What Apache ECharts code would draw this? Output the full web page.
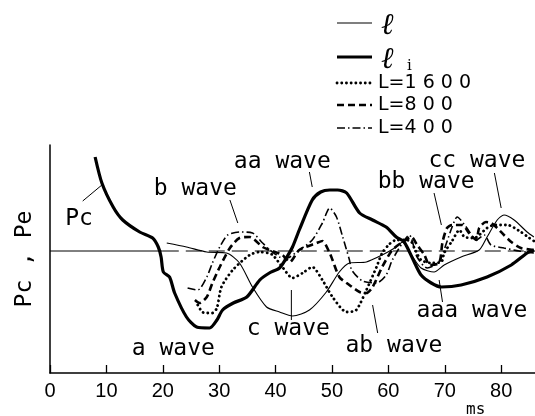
<!DOCTYPE html>
<html>
<head>
<meta charset="utf-8">
<script src="https://cdn.jsdelivr.net/npm/echarts@6/dist/echarts.min.js"></script>
<style>
  html, body { margin: 0; padding: 0; background: #fff; }
  #chart { width: 535px; height: 416px; }
</style>
</head>
<body>
<div id="chart"></div>
<script>
// Time axis (ms)
const xTicks = { min: 0, max: 86, interval: 10 };

// Thick curve: Pc falling into the l_i response
const ell_i = [[8.0,47],[9.2,34],[11.2,22],[12.9,15.5],[15.9,9.5],[18.2,6.5],[19.2,2],[19.7,-3],[20.1,-10.5],[21.2,-13],[22.1,-21],[24.2,-33],[26.0,-38],[28.3,-38.5],[29.6,-34.5],[30.6,-29.5],[32.5,-26],[34.9,-23],[37.2,-14.5],[38.9,-11],[40.7,-8.5],[41.9,-3.5],[43.0,2],[44.2,10.5],[46.5,25.5],[48.0,29.5],[49.6,30.5],[51.0,30.5],[52.6,29],[54.9,19],[57.2,15.5],[59.6,12],[61.4,7],[62.8,4.5],[64.5,-5],[65.8,-12],[67.6,-16],[69.4,-18],[72.9,-17],[77.5,-13],[81.8,-7],[84.6,-1],[85.8,0.5]];

// Thin curve l
const ell = [[20.7,4],[24.2,2],[27.8,-0.5],[31.3,-1],[33.6,-6],[35.9,-18],[38.4,-28],[40.7,-30.5],[43.0,-32.5],[46.0,-29.5],[49.0,-20.5],[51.3,-10.5],[53.1,-6],[56.1,-5.5],[58.9,-2],[61.4,2],[62.5,4.5],[64.1,-2],[65.8,-8.5],[68.1,-10.5],[69.9,-7],[72.9,-3],[76.1,0.5],[77.5,7],[79.3,15.5],[80.5,18],[82.3,15.5],[84.6,9.5],[85.8,7]];

// L = 1600 (dotted)
const L1600 = [[26.2,-27],[27.0,-30.5],[27.8,-31],[28.8,-31],[29.6,-28.5],[30.4,-18],[32.4,-9.5],[35.4,-2],[37.2,-0.5],[38.6,-1],[39.5,-2],[41.2,-8],[43.0,-13.5],[44.8,-11],[46.5,-8],[48.3,-14.5],[50.1,-23],[52.6,-30.5],[54.3,-29.5],[56.1,-19.5],[57.9,-8],[58.9,-1],[60.2,3.5],[61.4,5.5],[63.2,5.5],[64.1,4.5],[64.6,1.5],[65.8,-4.5],[67.6,-6],[69.4,-5.5],[69.9,-1],[71.3,5],[72.6,10.5],[73.5,7],[75.2,6.5],[77.5,11.5],[78.8,13],[81.1,13],[83.5,9.5],[85.0,6.5],[85.8,5]];

// L = 800 (dashed)
const L800 = [[25.7,-24.5],[26.5,-26],[27.8,-23],[28.8,-16],[30.1,-8],[31.9,1.5],[33.6,6.5],[35.4,7],[37.7,2],[38.9,0.5],[41.2,-2],[42.5,-5.5],[44.2,0.5],[47.3,4],[48.3,5],[49.6,-1],[50.1,-4.5],[51.3,-13],[52.6,-16],[54.9,-20.5],[56.1,-21],[57.2,-18],[58.9,-8],[60.7,0.5],[62.5,4.5],[64.1,7],[65.1,3],[66.4,-2],[67.3,-7],[69.0,-6],[69.6,4.5],[70.4,11.5],[71.3,13],[73.1,13],[74.3,9],[75.6,5.5],[76.1,11.5],[77.3,14.5],[78.2,14],[79.3,11.5],[80.5,8],[81.8,4.5],[83.5,1.5],[85.8,0.5]];

// L = 400 (dash-dot)
const L400 = [[24.4,-18.5],[26.2,-19.5],[27.8,-13],[28.8,-6],[30.1,2],[31.5,8],[33.6,9.5],[35.9,9],[37.7,4],[38.6,1.5],[40.7,-3],[42.0,-3.5],[44.2,0.5],[46.5,5.5],[48.3,14],[49.6,21.5],[50.8,17],[51.9,7],[53.1,-4.5],[53.5,-9.5],[55.4,-15],[57.9,-16],[59.6,-12],[60.7,-4.5],[62.5,4],[63.7,8],[65.1,-3],[66.9,-8.5],[69.0,-5.5],[70.3,4],[71.3,12],[72.2,17],[73.8,12],[75.6,5.5],[77.0,8],[78.2,3],[80.5,1.5],[83.2,0],[85.8,-1]];

// Pe reference level
const peSolid = [[0,0],[20,0]];
const peDashed = [[20,0],[86,0]];

// Wave labels: [text, x(ms), y]
const waveLabels = [
  ['a wave', 14.5, -49],
  ['c wave', 34.9, -39],
  ['ab wave', 52.4, -47.5],
  ['aaa wave', 65.0, -30],
  ['cc wave', 67.1, 45],
  ['bb wave', 58.1, 34.5],
  ['aa wave', 32.6, 44.5],
  ['b wave', 18.4, 31],
  ['Pc', 2.7, 16]
];

// Leader lines: [x1, y1, x2, y2]
const leaders = [
  [5.8,25, 9.2,33],
  [31.9,25.5, 33.3,14],
  [46.0,39.5, 46.5,32],
  [68.1,29, 69.4,13],
  [78.8,39, 80.0,21.5],
  [42.8,-19.5, 42.8,-34.5],
  [57.2,-27, 58.1,-41],
  [69.0,-14.5, 69.6,-25.5]
];

// Line styles shared by the curves and the key
const styles = {
  'ℓ':      { width: 1.1 },
  'ℓi':     { width: 3.2 },
  'L=1600': { width: 2.8, type: [0.1, 4.6], cap: 'round' },
  'L=800':  { width: 2.6, type: [7, 4] },
  'L=400':  { width: 1.6, type: [8, 3, 1.5, 3] }
};

// Key rows: name, row centre (px from top), text
const keyRows = [
  ['ℓ', 23],
  ['ℓi', 57],
  ['L=1600', 83],
  ['L=800', 105],
  ['L=400', 128]
];

const chart = echarts.init(document.getElementById('chart'), null, { renderer: 'canvas' });

const lineSeries = (name, data) => ({
  name, type: 'line', data, symbol: 'none', showSymbol: false, smooth: 0.25,
  lineStyle: Object.assign({ color: '#000' }, styles[name]),
  itemStyle: { color: '#000' },
  z: 3, animation: false
});

chart.setOption({
  backgroundColor: '#fff',
  animation: false,
  grid: { left: 50, right: 0, top: 145, bottom: 43 },
  xAxis: {
    type: 'value', min: xTicks.min, max: xTicks.max, interval: xTicks.interval,
    axisLine: { onZero: false, lineStyle: { color: '#000', width: 1.5 } },
    axisTick: { inside: true, length: 8, lineStyle: { color: '#000', width: 1.3 } },
    axisLabel: { showMaxLabel: false, color: '#000', fontFamily: 'Liberation Sans', fontSize: 20, margin: 8 },
    splitLine: { show: false }
  },
  yAxis: {
    type: 'value', min: -61, max: 53,
    name: 'Pc , Pe', nameLocation: 'middle', nameRotate: 90, nameGap: 13,
    nameTextStyle: { color: '#000', fontFamily: 'DejaVu Sans Mono', fontSize: 23 },
    axisLine: { show: true, onZero: false, lineStyle: { color: '#000', width: 1.5 } },
    axisTick: { show: false }, axisLabel: { show: false }, splitLine: { show: false }
  },
  series: [
    lineSeries('ℓ', ell),
    lineSeries('ℓi', ell_i),
    lineSeries('L=1600', L1600),
    lineSeries('L=800', L800),
    lineSeries('L=400', L400),
    { name: 'Pe', type: 'line', data: peSolid, symbol: 'none', lineStyle: { color: '#000', width: 1 }, z: 2 },
    { name: 'Pe2', type: 'line', data: peDashed, symbol: 'none', lineStyle: { color: '#000', width: 1, type: [16, 7] }, z: 2 }
  ]
});

const graphics = [];

// Key: line sample + label per curve
keyRows.forEach(([name, y]) => {
  const s = styles[name];
  graphics.push({
    type: 'line', z: 10,
    shape: { x1: 337, y1: y, x2: 372, y2: y },
    style: { stroke: '#000', lineWidth: s.width, lineDash: s.type || null, lineCap: s.cap || 'butt' }
  });
  if (name === 'ℓ' || name === 'ℓi') {
    graphics.push({
      type: 'text', x: 381, y: y + 3, z: 10,
      style: { text: 'ℓ', font: 'italic 30px "DejaVu Serif"', fill: '#000', textVerticalAlign: 'middle' }
    });
    if (name === 'ℓi') {
      graphics.push({
        type: 'text', x: 407, y: y + 9, z: 10,
        style: { text: 'i', font: '15px "DejaVu Serif"', fill: '#000', textVerticalAlign: 'middle' }
      });
    }
  } else {
    const txt = name.replace(/=(\d+)/, (m, d) => '=' + d.split('').join(' '));
    graphics.push({
      type: 'text', x: 378, y, z: 10,
      style: { text: txt, font: '19px "DejaVu Sans"', fill: '#000', textVerticalAlign: 'middle' }
    });
  }
});

// Wave annotations placed in data coordinates
const toPx = p => chart.convertToPixel({ gridIndex: 0 }, p);
waveLabels.forEach(([text, x, y]) => {
  const [px, py] = toPx([x, y]);
  graphics.push({
    type: 'text', x: px, y: py, z: 10,
    style: { text, font: '23px "DejaVu Sans Mono"', fill: '#000', textAlign: 'left', textVerticalAlign: 'middle' }
  });
});
leaders.forEach(([x1, y1, x2, y2]) => {
  const a = toPx([x1, y1]), b = toPx([x2, y2]);
  graphics.push({
    type: 'line', z: 10,
    shape: { x1: a[0], y1: a[1], x2: b[0], y2: b[1] },
    style: { stroke: '#000', lineWidth: 1 }
  });
});
graphics.push({
  type: 'text', x: 466, y: 410, z: 10,
  style: { text: 'ms', font: '16px "DejaVu Sans Mono"', fill: '#000', textVerticalAlign: 'middle' }
});
chart.setOption({ graphic: graphics });
</script>
</body>
</html>
